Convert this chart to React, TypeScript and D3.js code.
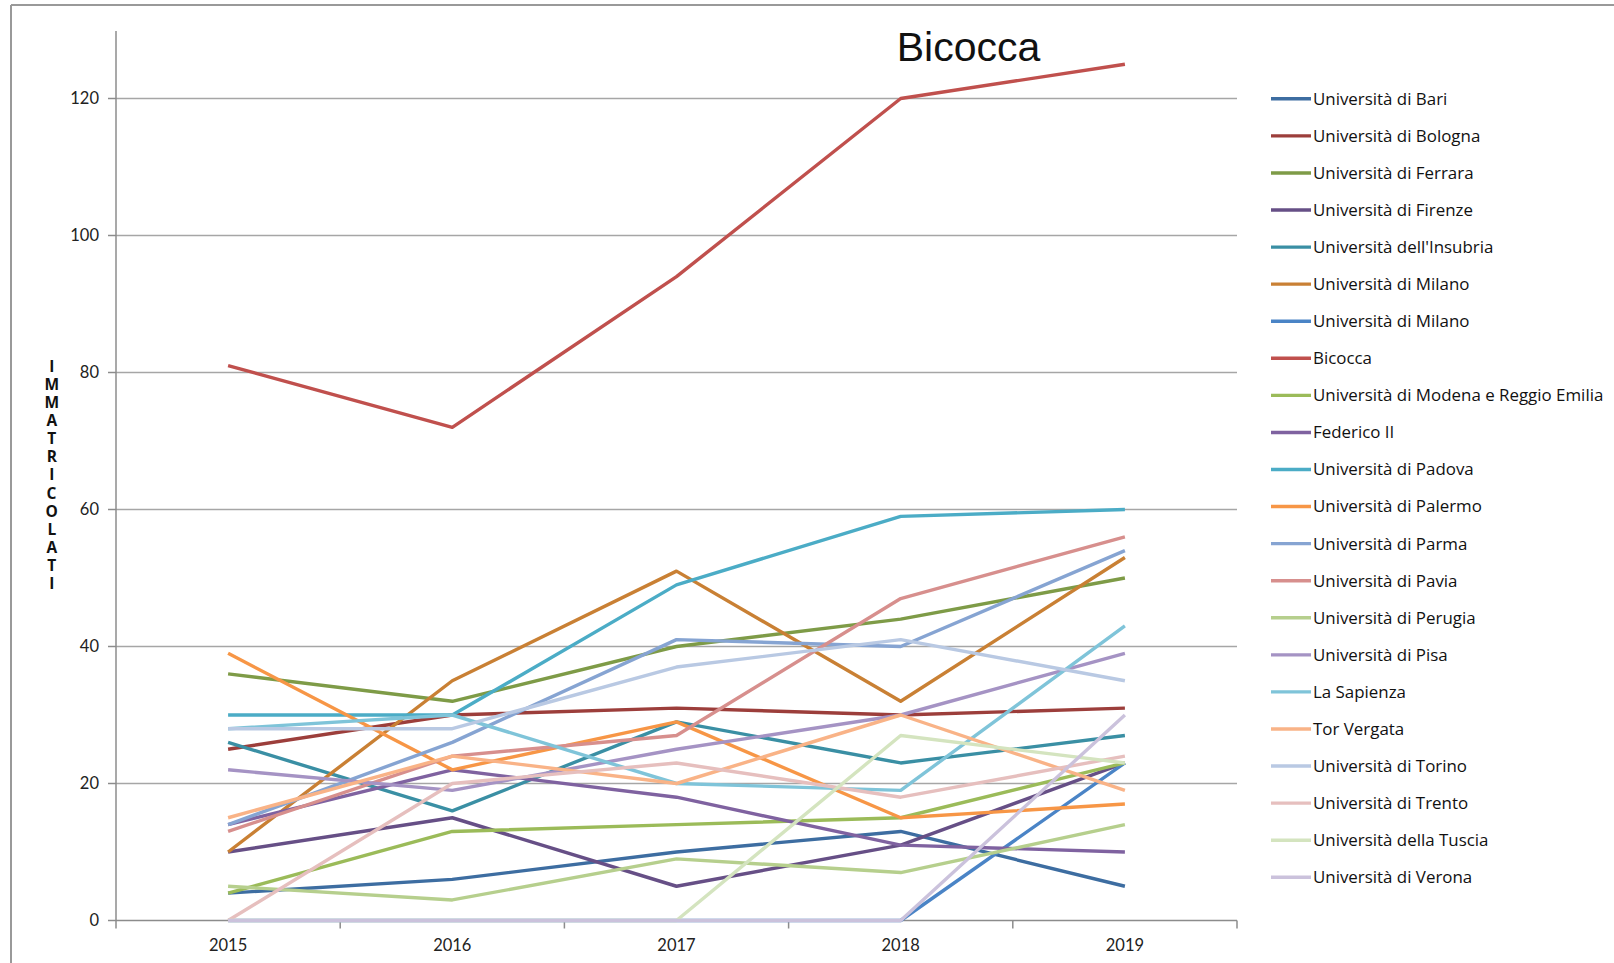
import React from "react";
import * as d3 from "d3";

const years = ["2015", "2016", "2017", "2018", "2019"];
const yTicks = [0, 20, 40, 60, 80, 100, 120];

const universities = [
  "Università di Bari",
  "Università di Bologna",
  "Università di Ferrara",
  "Università di Firenze",
  "Università dell'Insubria",
  "Università di Milano",
  "Università di Milano",
  "Bicocca",
  "Università di Modena e Reggio Emilia",
  "Federico II",
  "Università di Padova",
  "Università di Palermo",
  "Università di Parma",
  "Università di Pavia",
  "Università di Perugia",
  "Università di Pisa",
  "La Sapienza",
  "Tor Vergata",
  "Università di Torino",
  "Università di Trento",
  "Università della Tuscia",
  "Università di Verona",
];

const colors = [
  "#3d6da1", "#9c3e3b", "#7e9b47", "#664f86", "#3a8fa4", "#c98034",
  "#4a84c6", "#c0504d", "#9bbb59", "#7f62a0", "#4bacc6", "#f79646",
  "#86a4d2", "#d78f8d", "#b6cf8d", "#a593c4", "#7fc4d9", "#f9b387",
  "#b9c9e3", "#e6bfbe", "#d4e4bf", "#cbc2dc",
];

// immatricolati per anno, 2015..2019
const bari = [4, 6, 10, 13, 5];
const bologna = [25, 30, 31, 30, 31];
const ferrara = [36, 32, 40, 44, 50];
const firenze = [10, 15, 5, 11, 23];
const insubria = [26, 16, 29, 23, 27];
const milano = [10, 35, 51, 32, 53];
const milanoBlu = [0, 0, 0, 0, 23];
const bicocca = [81, 72, 94, 120, 125];
const modena = [4, 13, 14, 15, 23];
const federico = [14, 22, 18, 11, 10];
const padova = [30, 30, 49, 59, 60];
const palermo = [39, 22, 29, 15, 17];
const parma = [14, 26, 41, 40, 54];
const pavia = [13, 24, 27, 47, 56];
const perugia = [5, 3, 9, 7, 14];
const pisa = [22, 19, 25, 30, 39];
const sapienza = [28, 30, 20, 19, 43];
const torVergata = [15, 24, 20, 30, 19];
const torino = [28, 28, 37, 41, 35];
const trento = [0, 20, 23, 18, 24];
const tuscia = [0, 0, 0, 27, 23];
const verona = [0, 0, 0, 0, 30];

const seriesValues = [
  bari, bologna, ferrara, firenze, insubria, milano, milanoBlu, bicocca,
  modena, federico, padova, palermo, parma, pavia, perugia, pisa,
  sapienza, torVergata, torino, trento, tuscia, verona,
];

const FONT = "Lato, 'Open Sans', sans-serif";
const LEGEND_FONT = "'Open Sans', Lato, sans-serif";

const App = () => {
  const width = 1614;
  const height = 963;
  const left = 116;
  const right = 1237;
  const top = 31;
  const bottom = 920.5;

  const x = d3.scalePoint().domain(years).range([left, right]).padding(0.5);
  const y = d3.scaleLinear().domain([0, 120]).range([bottom, 98.5]);
  const step = x.step();

  const line = d3
    .line<number>()
    .x((_, i) => x(years[i]) as number)
    .y((d) => y(d));

  const legendX = 1271;
  const legendY = 98.8;
  const legendStep = 37.07;

  return (
    <svg
      width={width}
      height={height}
      style={{ position: "absolute", left: 0, top: 0, background: "#fff" }}
    >
      {/* cornice */}
      <line x1={11} y1={5} x2={width} y2={5} stroke="#999" strokeWidth={2} />
      <line x1={11} y1={5} x2={11} y2={height} stroke="#999" strokeWidth={2} />

      {/* griglia */}
      {yTicks.map((t) => (
        <g key={t}>
          {t > 0 && (
            <line x1={left} x2={right} y1={y(t)} y2={y(t)} stroke="#a6a6a6" strokeWidth={1.6} />
          )}
          <line x1={left - 8} x2={left} y1={y(t)} y2={y(t)} stroke="#8c8c8c" strokeWidth={1.5} />
          <text
            x={99}
            y={y(t)}
            dy="0.35em"
            textAnchor="end"
            fontSize={16.5}
            fontFamily={FONT}
            fill="#222"
          >
            {t}
          </text>
        </g>
      ))}

      {/* assi */}
      <line x1={left} x2={left} y1={top} y2={bottom} stroke="#8c8c8c" strokeWidth={1.5} />
      <line x1={left} x2={right} y1={bottom} y2={bottom} stroke="#8c8c8c" strokeWidth={1.5} />
      {d3.range(years.length + 1).map((i) => (
        <line
          key={i}
          x1={left + i * step}
          x2={left + i * step}
          y1={bottom}
          y2={bottom + 8}
          stroke="#8c8c8c"
          strokeWidth={1.5}
        />
      ))}
      {years.map((yr) => (
        <text
          key={yr}
          x={x(yr)}
          y={951}
          textAnchor="middle"
          fontSize={16.5}
          fontFamily={FONT}
          fill="#222"
        >
          {yr}
        </text>
      ))}

      {/* titolo asse y, lettere impilate */}
      <text
        x={51.5}
        y={354.5}
        fontSize={15.5}
        fontWeight="bold"
        fontFamily={LEGEND_FONT}
        fill="#111"
        letterSpacing={-3.85}
        style={{ writingMode: "vertical-rl", textOrientation: "upright" } as React.CSSProperties}
      >
        IMMATRICOLATI
      </text>

      {/* linee */}
      {seriesValues.map((vals, i) => (
        <path
          key={i}
          d={line(vals) || ""}
          fill="none"
          stroke={colors[i]}
          strokeWidth={3.4}
          strokeLinejoin="round"
        />
      ))}

      {/* titolo */}
      <text
        x={968.5}
        y={61}
        textAnchor="middle"
        fontSize={41}
        fontFamily="'Liberation Sans', Arial, sans-serif"
        fill="#111"
      >
        Bicocca
      </text>

      {/* legenda */}
      {universities.map((name, i) => (
        <g key={i} transform={`translate(${legendX},${legendY + i * legendStep})`}>
          <line x1={0} x2={40} y1={0} y2={0} stroke={colors[i]} strokeWidth={3.4} />
          <text x={42} y={0} dy="0.35em" fontSize={16.9} fontFamily={LEGEND_FONT} fill="#111">
            {name}
          </text>
        </g>
      ))}
    </svg>
  );
};

export default App;
